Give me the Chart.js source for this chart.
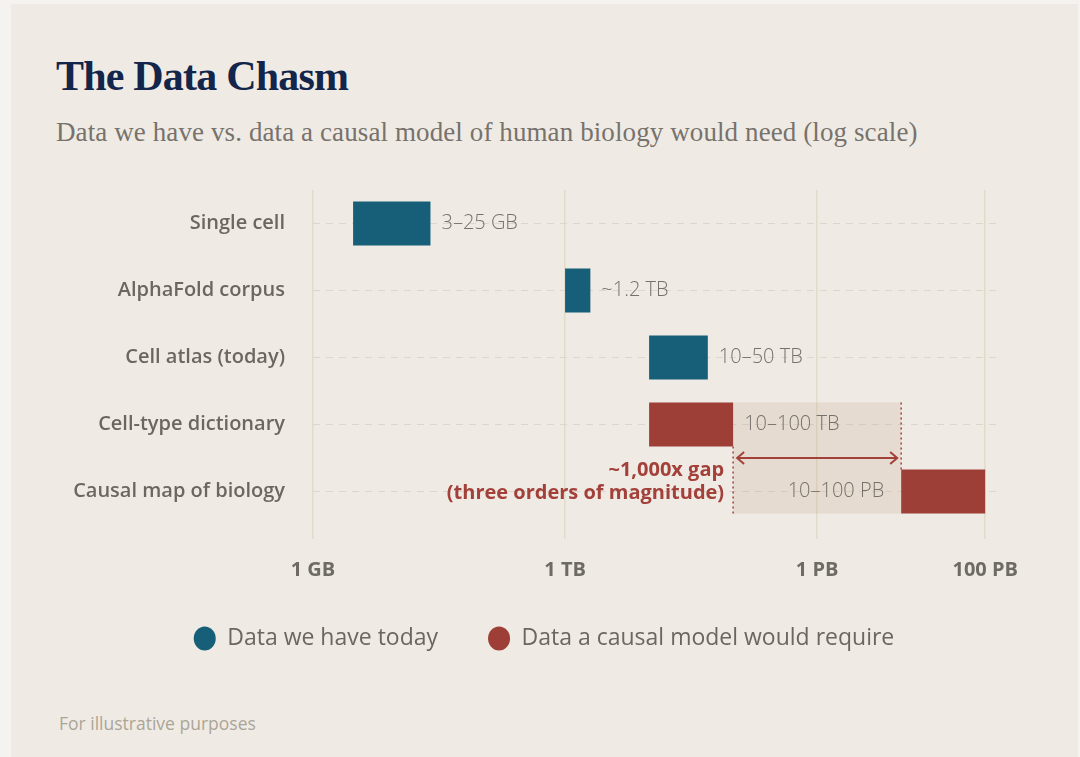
<!DOCTYPE html>
<html>
<head>
<meta charset="utf-8">
<title>The Data Chasm</title>
<script src="https://cdn.jsdelivr.net/npm/chart.js@4.4.1/dist/chart.umd.min.js"></script>
<style>
  html, body { margin: 0; padding: 0; }
  body { width: 1080px; height: 757px; background: #f5f3ef; position: relative; overflow: hidden; }
  #card { position: absolute; left: 11px; top: 4px; width: 1067px; height: 753px; background: #efebe4; }
  #title { position: absolute; left: 56px; top: 52px; font-family: "Liberation Serif", serif; font-weight: 700;
           font-size: 42px; color: #13254a; letter-spacing: -0.8px; }
  #subtitle { position: absolute; left: 56px; top: 117px; font-family: "Liberation Serif", serif;
              font-size: 27px; color: #77726c; letter-spacing: 0.1px; }
  #note { position: absolute; left: 59px; top: 711px; font-family: "Open Sans", sans-serif;
          font-size: 17.5px; color: #aba598; }
  #wrap { position: absolute; left: 0; top: 0; width: 1080px; height: 757px; }
</style>
</head>
<body>
<div id="card"></div>
<div id="title">The Data Chasm</div>
<div id="subtitle">Data we have vs. data a causal model of human biology would need (log scale)</div>
<div id="note">For illustrative purposes</div>
<div id="wrap"><canvas id="chart-chasm" width="1080" height="757"></canvas></div>
<script>
// values in GB
const categories = ["Single cell", "AlphaFold corpus", "Cell atlas (today)", "Cell-type dictionary", "Causal map of biology"];
const haveToday = [[3, 25], [1000, 2000], [10000, 50000], null, null];
const wouldRequire = [null, null, null, [10000, 100000], [1e7, 1e8]];
const rangeLabels = ["3–25 GB", "~1.2 TB", "10–50 TB", "10–100 TB", "10–100 PB"];
const tickValues = [1, 1e3, 1e6, 1e8];
const tickLabels = ["1 GB", "1 TB", "1 PB", "100 PB"];
const gapLines = ["~1,000x gap", "(three orders of magnitude)"];

const TEAL = "#175f79";
const RED = "#9d3f37";
const GAP_RED = "#a3403a";

function gapGeometry(chart) {
  const x = chart.scales.x;
  const meta = chart.getDatasetMeta(1);
  const dict = meta.data[3];
  const causal = meta.data[4];
  const dictBottom = dict.y + dict.height / 2;
  const causalTop = causal.y - causal.height / 2;
  return {
    x1: x.getPixelForValue(wouldRequire[3][1]),
    x2: x.getPixelForValue(wouldRequire[4][0]),
    top: dict.y - dict.height / 2,
    bottom: causal.y + causal.height / 2,
    dictBottom: dictBottom,
    causalTop: causalTop,
    arrowY: (dictBottom + causalTop) / 2,
    rowY: causal.y
  };
}

const gapPlugin = {
  id: "gap",
  beforeDatasetsDraw(chart) {
    const ctx = chart.ctx;
    const g = gapGeometry(chart);
    ctx.save();
    ctx.fillStyle = "rgba(195, 155, 130, 0.2)";
    ctx.fillRect(g.x1, g.top, g.x2 - g.x1, g.bottom - g.top);
    ctx.restore();
  },
  afterDatasetsDraw(chart) {
    const ctx = chart.ctx;
    const g = gapGeometry(chart);
    ctx.save();
    ctx.strokeStyle = GAP_RED;

    // dotted edges of the gap
    ctx.lineWidth = 1.5;
    ctx.setLineDash([2, 3]);
    ctx.beginPath();
    ctx.moveTo(g.x1, g.dictBottom);
    ctx.lineTo(g.x1, g.bottom);
    ctx.moveTo(g.x2, g.top);
    ctx.lineTo(g.x2, g.causalTop);
    ctx.stroke();

    // double arrow
    ctx.setLineDash([]);
    ctx.lineWidth = 2;
    const a = g.x1 + 4, b = g.x2 - 4, y = g.arrowY;
    ctx.beginPath();
    ctx.moveTo(a, y); ctx.lineTo(b, y);
    ctx.moveTo(a + 7, y - 6); ctx.lineTo(a, y); ctx.lineTo(a + 7, y + 6);
    ctx.moveTo(b - 7, y - 6); ctx.lineTo(b, y); ctx.lineTo(b - 7, y + 6);
    ctx.stroke();

    // gap text
    ctx.fillStyle = GAP_RED;
    ctx.font = "700 20px 'Open Sans'";
    ctx.textAlign = "right";
    ctx.textBaseline = "middle";
    ctx.fillText(gapLines[0], g.x1 - 9, g.rowY - 21);
    ctx.fillText(gapLines[1], g.x1 - 9, g.rowY + 2);
    ctx.restore();
  }
};

const rangeLabelPlugin = {
  id: "rangeLabels",
  afterDatasetsDraw(chart) {
    const ctx = chart.ctx;
    ctx.save();
    ctx.font = "300 20px 'Open Sans'";
    ctx.fillStyle = "#76716c";
    ctx.textBaseline = "middle";
    chart.data.datasets.forEach((ds, di) => {
      const meta = chart.getDatasetMeta(di);
      meta.data.forEach((el, i) => {
        if (!ds.data[i]) return;
        const text = rangeLabels[i];
        const w = ctx.measureText(text).width;
        const right = Math.max(el.x, el.base);
        const left = Math.min(el.x, el.base);
        if (right + 12 + w <= chart.chartArea.right) {
          ctx.textAlign = "left";
          ctx.fillText(text, right + 11, el.y);
        } else {
          ctx.textAlign = "right";
          ctx.fillText(text, left - 17, el.y);
        }
      });
    });
    ctx.restore();
  }
};

// nudge the legend row so it sits under the middle of the card
const legendShift = {
  id: "legendShift",
  afterLayout(chart) {
    chart.legend.left += 14;
    chart.legend.right += 14;
  }
};

const ctx = document.getElementById("chart-chasm").getContext("2d");

new Chart(ctx, {
  type: "bar",
  data: {
    labels: categories,
    datasets: [
      {
        label: "Data we have today",
        data: haveToday,
        backgroundColor: TEAL,
        borderWidth: 0,
        grouped: false,
        barPercentage: 0.66,
        categoryPercentage: 1,
      },
      {
        label: "Data a causal model would require",
        data: wouldRequire,
        backgroundColor: RED,
        borderWidth: 0,
        grouped: false,
        barPercentage: 0.66,
        categoryPercentage: 1,
      },
    ],
  },
  options: {
    indexAxis: "y",
    responsive: false,
    animation: false,
    layout: {
      padding: { top: 190, right: 80, bottom: 97, left: 60 },
    },
    plugins: {
      tooltip: { enabled: false },
      legend: {
        position: "bottom",
        labels: {
          usePointStyle: true,
          pointStyle: "circle",
          pointStyleWidth: 22,
          boxHeight: 17,
          padding: 50,
          color: "#6b6661",
          font: { size: 23, family: "Open Sans" },
        },
      },
    },
    scales: {
      x: {
        type: "logarithmic",
        min: 1,
        max: 1.5e8,
        afterBuildTicks: (scale) => {
          scale.ticks = tickValues.map((v) => ({ value: v }));
        },
        afterFit: (scale) => {
          scale.height = 52;
        },
        border: { display: false },
        grid: {
          color: "#e1dcc9",
          lineWidth: 1.5,
          drawTicks: true,
          tickLength: 14,
        },
        ticks: {
          autoSkip: false,
          padding: 19,
          color: "#6e6a65",
          font: { size: 20, weight: "700", family: "Open Sans" },
          callback: (v) => tickLabels[tickValues.indexOf(v)],
        },
      },
      y: {
        afterFit: (scale) => {
          scale.width = 253;
        },
        border: { display: false, dash: [7, 6] },
        grid: {
          offset: false,
          color: "#dcd7cc",
          drawTicks: false,
        },
        ticks: {
          padding: 28,
          color: "#6b6661",
          font: { size: 20, weight: "600", family: "Open Sans" },
        },
      },
    },
  },
  plugins: [gapPlugin, rangeLabelPlugin, legendShift],
});
</script>
</body>
</html>
